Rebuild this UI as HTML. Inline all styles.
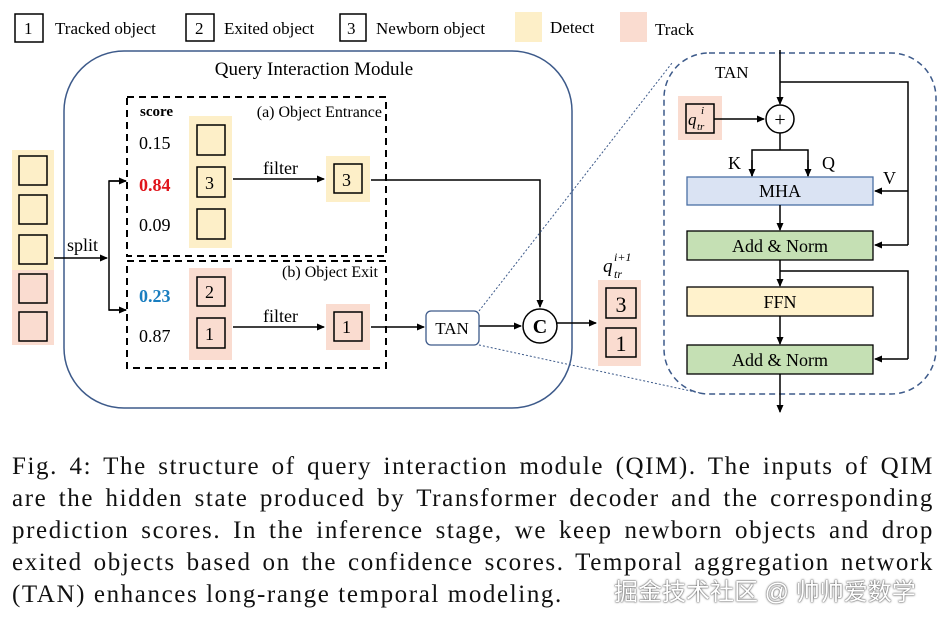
<!DOCTYPE html>
<html><head><meta charset="utf-8"><style>
html,body{margin:0;padding:0;background:#fff;width:944px;height:620px;overflow:hidden}
.cap{position:absolute;left:12px;width:922px;font-family:"Liberation Serif",serif;font-size:25px;letter-spacing:1.6px;line-height:32px;text-align:justify;text-align-last:justify;color:#111;white-space:nowrap}
.cap.last{text-align-last:left}
.wm{position:absolute;left:614px;top:572px;font-family:"Liberation Sans","Noto Sans CJK SC",sans-serif;font-size:24px;color:#fff;text-shadow:0 0 2px #555,0 0 1px #333}
</style></head><body>
<svg width="944" height="440" style="position:absolute;left:0;top:0" font-family="Liberation Serif, serif">
<defs><marker id="a" markerWidth="8" markerHeight="8" refX="7" refY="4" orient="auto" markerUnits="userSpaceOnUse"><path d="M0,0.5 L8,4 L0,7.5 z" fill="#000"/></marker></defs>
<g stroke="#000" stroke-width="1.5" fill="none">
<rect x="15" y="14" width="28" height="28"/><rect x="186" y="14" width="28" height="27"/><rect x="340" y="14" width="26" height="27"/>
</g>
<rect x="515" y="12" width="27" height="30" fill="#fdefc8"/><rect x="620" y="12" width="27" height="30" fill="#fadcd0"/>
<g font-size="17" fill="#000">
<text x="24" y="34">1</text><text x="195" y="34">2</text><text x="347" y="34">3</text>
<text x="55" y="34" font-size="17">Tracked object</text><text x="224" y="34" font-size="17">Exited object</text><text x="376" y="34" font-size="17">Newborn object</text>
<text x="550" y="33" font-size="17">Detect</text><text x="655" y="35" font-size="17">Track</text>
</g>
<rect x="64" y="51" width="508" height="357" rx="60" fill="none" stroke="#3d5a8a" stroke-width="1.5"/>
<text x="314" y="75" font-size="19" text-anchor="middle">Query Interaction Module</text>
<rect x="127" y="97" width="259" height="159" fill="none" stroke="#000" stroke-width="2" stroke-dasharray="7,5"/>
<rect x="127" y="261" width="259" height="107" fill="none" stroke="#000" stroke-width="2" stroke-dasharray="7,5"/>
<text x="382" y="117" font-size="16" text-anchor="end">(a) Object Entrance</text>
<text x="378" y="277" font-size="16" text-anchor="end">(b) Object Exit</text>
<rect x="12" y="150" width="42" height="120" fill="#fdefc8"/><rect x="12" y="270" width="42" height="75" fill="#fadcd0"/>
<g stroke="#000" stroke-width="1.5" fill="none">
<rect x="19" y="156" width="28" height="29"/><rect x="19" y="195" width="28" height="29"/><rect x="19" y="235" width="28" height="29"/><rect x="19" y="274" width="28" height="29"/><rect x="19" y="312" width="28" height="29"/>
<line x1="54" y1="258" x2="107" y2="258" marker-end="url(#a)"/>
<polyline points="126,181 109,181 109,310 126,310" />
<line x1="109" y1="181" x2="126" y2="181" marker-end="url(#a)"/><line x1="109" y1="310" x2="126" y2="310" marker-end="url(#a)"/>
</g>
<text x="67" y="251" font-size="18">split</text>
<text x="140" y="116" font-size="15" font-weight="bold">score</text>
<g font-size="18"><text x="139" y="149">0.15</text><text x="139" y="191" fill="#e0141b" font-weight="bold">0.84</text><text x="139" y="231">0.09</text>
<text x="139" y="302" fill="#1a7ec0" font-weight="bold">0.23</text><text x="139" y="342">0.87</text></g>
<rect x="189" y="116" width="43" height="132" fill="#fdefc8"/>
<rect x="189" y="268" width="43" height="92" fill="#fadcd0"/>
<rect x="326" y="156" width="44" height="46" fill="#fdefc8"/>
<rect x="326" y="304" width="44" height="46" fill="#fadcd0"/>
<g stroke="#000" stroke-width="1.5" fill="none">
<rect x="197" y="125" width="28" height="30"/><rect x="197" y="167" width="28" height="30"/><rect x="197" y="209" width="28" height="30"/>
<rect x="197" y="277" width="28" height="29"/><rect x="197" y="318" width="28" height="30"/>
<rect x="334" y="164" width="28" height="29"/><rect x="334" y="312" width="28" height="29"/>
<line x1="233" y1="179" x2="324" y2="179" marker-end="url(#a)"/>
<line x1="233" y1="327" x2="324" y2="327" marker-end="url(#a)"/>
<polyline points="371,180 540,180 540,307" marker-end="url(#a)"/>
<line x1="371" y1="327" x2="424" y2="327" marker-end="url(#a)"/>
<line x1="479" y1="326" x2="521" y2="326" marker-end="url(#a)"/>
<line x1="557" y1="323" x2="596" y2="323" marker-end="url(#a)"/>
<circle cx="540" cy="326" r="17" fill="#fff"/>
</g>
<g font-size="18"><text x="205" y="189">3</text><text x="205" y="298">2</text><text x="205" y="340">1</text><text x="342" y="186">3</text><text x="342" y="333">1</text>
<text x="263" y="174">filter</text><text x="263" y="322">filter</text></g>
<text x="540" y="333" font-size="20" font-weight="bold" text-anchor="middle">C</text>
<rect x="426" y="311" width="53" height="34" rx="5" fill="#fff" stroke="#3d5a8a" stroke-width="1.3"/>
<text x="452" y="334" font-size="17" text-anchor="middle">TAN</text>
<rect x="598" y="280" width="43" height="86" fill="#fadcd0"/>
<rect x="606" y="288" width="30" height="30" fill="none" stroke="#000" stroke-width="1.5"/><rect x="606" y="328" width="30" height="29" fill="none" stroke="#000" stroke-width="1.5"/>
<text x="621" y="312" font-size="22" text-anchor="middle">3</text><text x="621" y="351" font-size="22" text-anchor="middle">1</text>
<text x="603" y="272" font-size="19" font-style="italic">q</text><text x="614" y="278" font-size="12" font-style="italic">tr</text><text x="614" y="261" font-size="12" font-style="italic">i+1</text>
<rect x="664" y="53" width="272" height="341" rx="45" fill="none" stroke="#3d5a8a" stroke-width="1.5" stroke-dasharray="6,4"/>
<line x1="479" y1="311" x2="672" y2="63" stroke="#3d5a8a" stroke-width="1" stroke-dasharray="2,2"/>
<line x1="479" y1="345" x2="700" y2="393" stroke="#3d5a8a" stroke-width="1" stroke-dasharray="2,2"/>
<text x="715" y="78" font-size="17">TAN</text>
<rect x="678" y="96" width="44" height="44" fill="#fadcd0"/>
<rect x="686" y="104" width="28" height="29" fill="none" stroke="#000" stroke-width="1.5"/>
<text x="688" y="125" font-size="17" font-style="italic">q</text><text x="697" y="130" font-size="11" font-style="italic">tr</text><text x="701" y="114" font-size="11" font-style="italic">i</text>
<rect x="687" y="177" width="186" height="28" fill="#dae3f3" stroke="#4a6fa5" stroke-width="1.3"/>
<rect x="687" y="231" width="186" height="29" fill="#c5e0b4" stroke="#000" stroke-width="1.3"/>
<rect x="687" y="287" width="186" height="29" fill="#fff2cc" stroke="#000" stroke-width="1.3"/>
<rect x="687" y="345" width="186" height="29" fill="#c5e0b4" stroke="#000" stroke-width="1.3"/>
<g font-size="18" text-anchor="middle"><text x="780" y="197">MHA</text><text x="780" y="252">Add &amp; Norm</text><text x="780" y="308">FFN</text><text x="780" y="366">Add &amp; Norm</text></g>
<g stroke="#000" stroke-width="1.5" fill="none">
<line x1="780" y1="50" x2="780" y2="104" marker-end="url(#a)"/>
<polyline points="780,82 908,82 908,245"/>
<line x1="908" y1="191" x2="875" y2="191" marker-end="url(#a)"/>
<line x1="908" y1="245" x2="875" y2="245" marker-end="url(#a)"/>
<line x1="714" y1="119" x2="764" y2="119" marker-end="url(#a)"/>
<circle cx="780" cy="119" r="14" fill="#fff"/>
<line x1="780" y1="133" x2="780" y2="150"/>
<polyline points="752,176 752,150 808,150 808,176"/>
<line x1="752" y1="160" x2="752" y2="176" marker-end="url(#a)"/><line x1="808" y1="160" x2="808" y2="176" marker-end="url(#a)"/>
<line x1="780" y1="205" x2="780" y2="230" marker-end="url(#a)"/>
<line x1="780" y1="260" x2="780" y2="286" marker-end="url(#a)"/>
<polyline points="780,271 908,271 908,359"/>
<line x1="908" y1="359" x2="875" y2="359" marker-end="url(#a)"/>
<line x1="780" y1="316" x2="780" y2="344" marker-end="url(#a)"/>
<line x1="780" y1="374" x2="780" y2="412" marker-end="url(#a)"/>
</g>
<text x="780" y="126" font-size="20" text-anchor="middle">+</text>
<g font-size="18"><text x="728" y="169">K</text><text x="822" y="169">Q</text><text x="883" y="184">V</text></g>
</svg>
<div class="cap" style="top:451px">Fig. 4: The structure of query interaction module (QIM). The inputs of QIM</div>
<div class="cap" style="top:483px">are the hidden state produced by Transformer decoder and the corresponding</div>
<div class="cap" style="top:515px">prediction scores. In the inference stage, we keep newborn objects and drop</div>
<div class="cap" style="top:547px">exited objects based on the confidence scores. Temporal aggregation network</div>
<div class="cap last" style="top:579px">(TAN) enhances long-range temporal modeling.</div>
<div class="wm">掘金技术社区 @ 帅帅爱数学</div>
</body></html>
